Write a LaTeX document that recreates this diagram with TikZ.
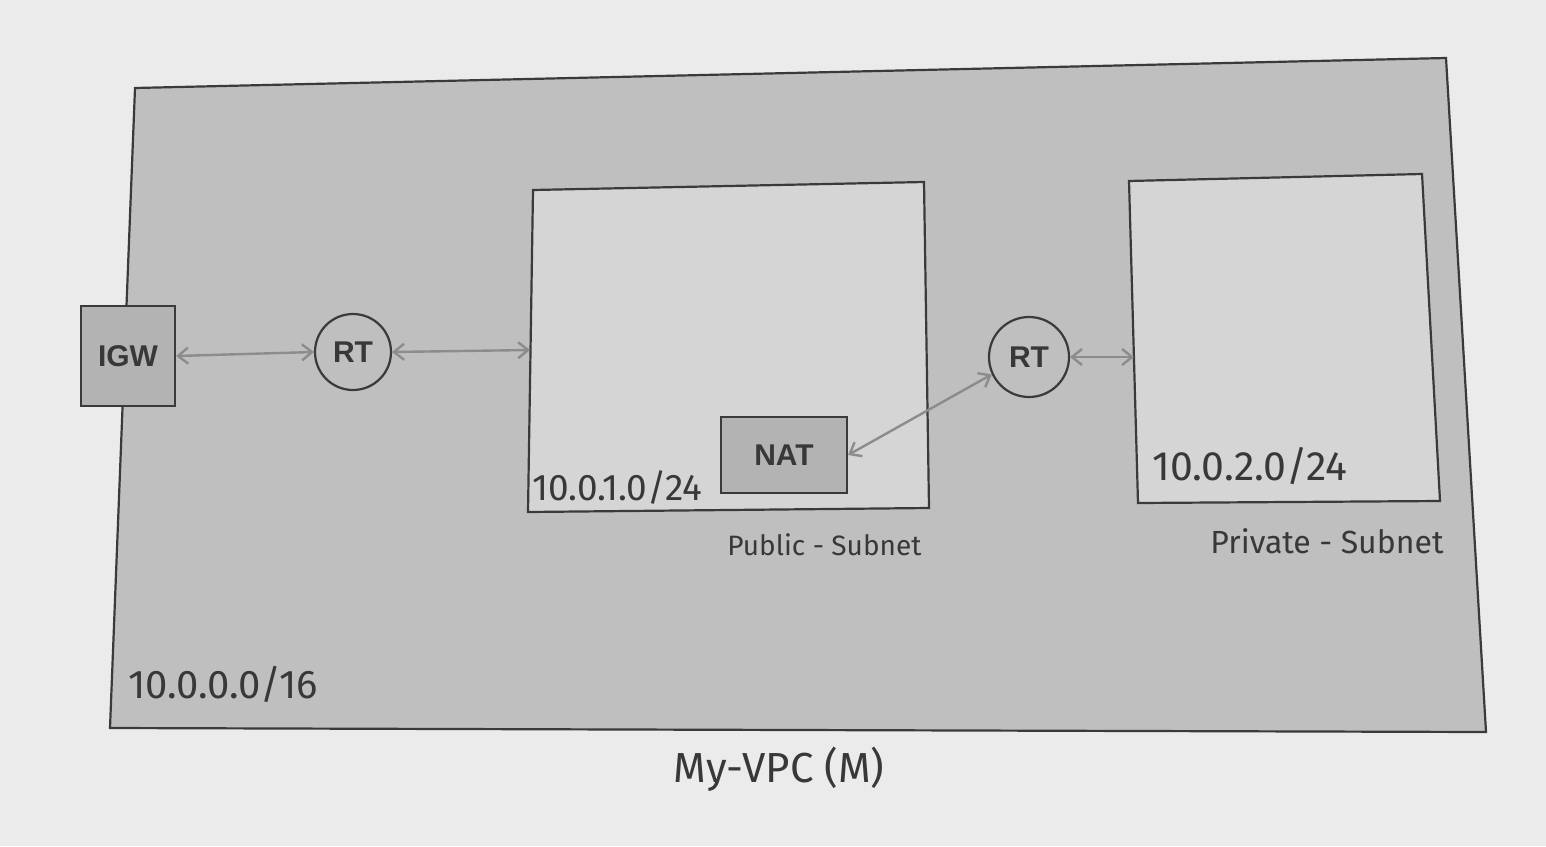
\documentclass[tikz,border=0pt]{standalone}
\usepackage{fontspec}
\setmainfont{Liberation Sans}
\newfontfamily\handfont{Fira Sans}
\usetikzlibrary{arrows.meta}
\definecolor{paper}{HTML}{EBEBEB}
\definecolor{vpcfill}{HTML}{BFBFBF}
\definecolor{subfill}{HTML}{D5D5D5}
\definecolor{boxfill}{HTML}{B3B3B3}
\definecolor{edge}{HTML}{3A3A3A}
\definecolor{arrowc}{HTML}{8C8C8C}
\definecolor{txt}{HTML}{383838}
\tikzset{
  container/.style={draw=edge, line width=1.1pt},
  gatebox/.style={draw=edge, fill=boxfill, line width=1.1pt, rectangle, font=\bfseries\fontsize{15}{18}\selectfont, text=txt, inner sep=0pt},
  router/.style={draw=edge, fill=vpcfill, line width=1.1pt, circle, font=\bfseries\fontsize{15}{18}\selectfont, text=txt, inner sep=0pt},
  link/.style={draw=arrowc, line width=1.2pt, {Straight Barb[length=5pt,width=8pt]}-{Straight Barb[length=5pt,width=8pt]}},
  hand/.style={font=\handfont\fontsize{20}{24}\selectfont, text=txt, inner sep=0pt},
  handsmall/.style={font=\handfont\fontsize{14}{17}\selectfont, text=txt, inner sep=0pt}
}
\begin{document}
\begin{tikzpicture}[x=0.5pt,y=-0.5pt]
\useasboundingbox (0,0) rectangle (1546,846);
\fill[paper] (0,0) rectangle (1546,846);
% VPC container
\filldraw[container, fill=vpcfill] (135,88) -- (1446,58) -- (1486,732) -- (110,728) -- cycle;
% Public subnet
\filldraw[container, fill=subfill] (533,190) -- (924,182) -- (929,508) -- (528,512) -- cycle;
% Private subnet
\filldraw[container, fill=subfill] (1129,181) -- (1422,174) -- (1440,501) -- (1138,503) -- cycle;
% connector end points on subnets
\coordinate (pubW) at (530,350);
\coordinate (privW) at (1134,357);
% nodes
\node[gatebox, minimum width=47pt, minimum height=50pt] (igw) at (128,356) {IGW};
\node[router, minimum size=38pt] (rt1) at (353,352) {RT};
\node[router, minimum size=40pt] (rt2) at (1029,357) {RT};
\node[gatebox, minimum width=63pt, minimum height=38pt] (nat) at (784,455) {NAT};
% links
\draw[link] (igw.east) -- (rt1.west);
\draw[link] (rt1.east) -- (pubW);
\draw[link] (nat.east) -- (rt2.205);
\draw[link] (rt2.east) -- (privW);
% labels
\node[hand, font=\handfont\fontsize{18.5}{22}\selectfont, anchor=south west] (pubcidr) at (532,505) {10.0.1.0/24};
\node[hand, font=\handfont\fontsize{20.5}{24}\selectfont, anchor=south west] (privcidr) at (1152,485) {10.0.2.0/24};
\node[hand, anchor=south west] (vpccidr) at (128,703) {10.0.0.0/16};
\node[handsmall, anchor=south west] (publbl) at (727,556) {Public - Subnet};
\node[handsmall, font=\handfont\fontsize{16}{19}\selectfont, anchor=south west] (privlbl) at (1210,554) {Private - Subnet};
\node[hand, font=\handfont\fontsize{21}{25}\selectfont, anchor=south west] (vpclbl) at (673,792) {My-VPC (M)};
\end{tikzpicture}
\end{document}
